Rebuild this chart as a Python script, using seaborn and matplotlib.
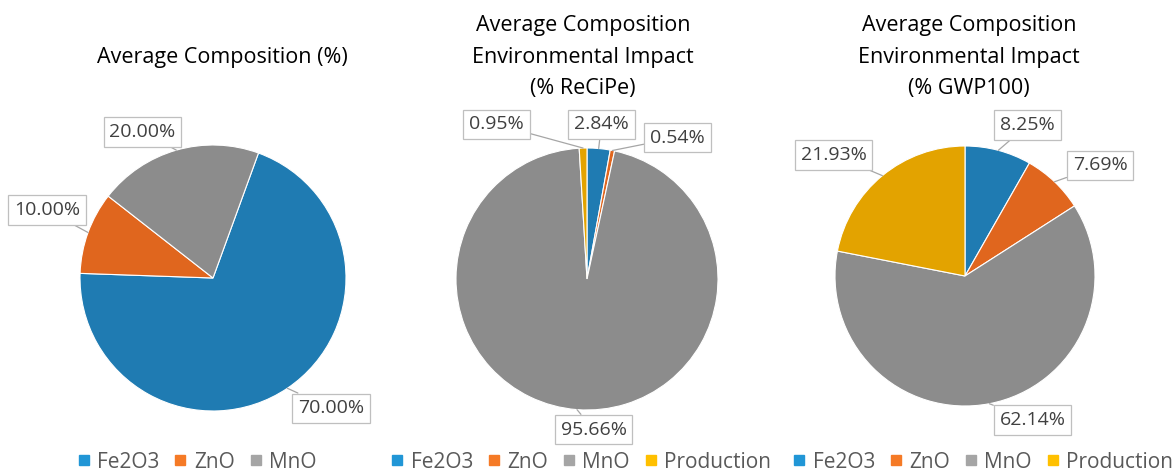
import matplotlib
matplotlib.use("Agg")
import matplotlib.pyplot as plt
from matplotlib.lines import Line2D
import numpy as np
import seaborn as sns

sns.set_theme(style="white")
plt.rcParams["font.family"] = ["Open Sans", "DejaVu Sans"]

# data
comp_labels = ["Fe2O3", "ZnO", "MnO"]
comp_values = [70.00, 10.00, 20.00]

impact_labels = ["Fe2O3", "ZnO", "MnO", "Production"]
recipe_values = [2.84, 0.54, 95.66, 0.95]
gwp_values = [8.25, 7.69, 62.14, 21.93]

titles = ["Average Composition (%)",
          "Average Composition\nEnvironmental Impact\n(% ReCiPe)",
          "Average Composition\nEnvironmental Impact\n(% GWP100)"]

pie_colors = ["#1f7bb2", "#e0661e", "#8c8c8c", "#e3a300"]
legend_colors = ["#2196d6", "#f57a26", "#a5a5a5", "#ffc000"]

# layout (pixels): pie centre x, centre y, radius
W, H = 1173, 474
pies = [(213, 278, 133), (587, 279, 131), (965, 276, 130)]
start_angles = [70, 90, 90]
# label box centres in pie-radius units
label_pos = [
    [(0.89, -0.98), (-1.25, 0.51), (-0.53, 1.10)],
    [(0.11, 1.18), (0.69, 1.08), (0.05, -1.15), (-0.69, 1.18)],
    [(0.48, 1.16), (1.04, 0.85), (0.52, -1.11), (-1.01, 0.93)],
]
title_x = [222, 583, 969]
legend_x = [197, 581, 983]

fig = plt.figure(figsize=(W / 100, H / 100), dpi=100)

datasets = [(comp_labels, comp_values), (impact_labels, recipe_values),
            (impact_labels, gwp_values)]

for i, (labels, values) in enumerate(datasets):
    cx, cy, r = pies[i]
    ax = fig.add_axes([(cx - r) / W, (H - cy - r) / H, 2 * r / W, 2 * r / H])
    wedges, _ = ax.pie(values, colors=pie_colors[:len(values)],
                       startangle=start_angles[i], counterclock=False,
                       wedgeprops=dict(edgecolor="white", linewidth=0.8))
    ax.set_xlim(-1, 1)
    ax.set_ylim(-1, 1)
    ax.axis("off")

    for w, v, pos in zip(wedges, values, label_pos[i]):
        mid = np.deg2rad((w.theta1 + w.theta2) / 2)
        ax.annotate(f"{v:.2f}%", xy=(np.cos(mid), np.sin(mid)), xytext=pos,
                    ha="center", va="center", fontsize=14, color="#404040",
                    annotation_clip=False,
                    bbox=dict(boxstyle="square,pad=0.3", fc="white",
                              ec="#bfbfbf", lw=0.9),
                    arrowprops=dict(arrowstyle="-", color="#a6a6a6", lw=0.9,
                                    shrinkA=0, shrinkB=0))

    fig.text(title_x[i] / W, (H - 57) / H, titles[i], ha="center", va="center",
             fontsize=15.5, color="#000000", linespacing=1.68,
             multialignment="center")

    handles = [Line2D([0], [0], marker="s", linestyle="", markersize=7,
                      markerfacecolor=c, markeredgecolor=c)
               for c in legend_colors[:len(labels)]]
    fig.legend(handles, labels, loc="center", ncol=len(labels),
               bbox_to_anchor=(legend_x[i] / W, (H - 462) / H),
               frameon=False, fontsize=15, labelcolor="#595959",
               handlelength=0.6, handletextpad=0.35, columnspacing=0.7,
               borderpad=0, borderaxespad=0)

fig.savefig("out.png", dpi=100, facecolor="white")
